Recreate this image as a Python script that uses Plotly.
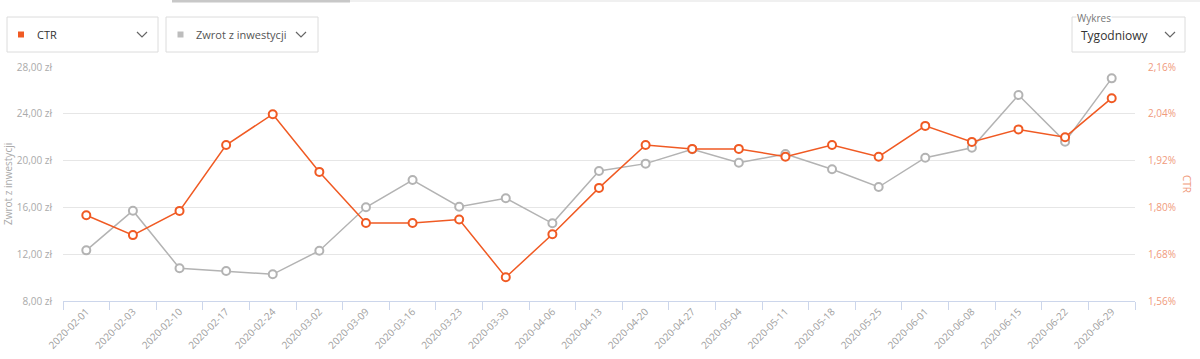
import plotly.graph_objects as go

dates = ["2020-02-01", "2020-02-03", "2020-02-10", "2020-02-17", "2020-02-24",
         "2020-03-02", "2020-03-09", "2020-03-16", "2020-03-23", "2020-03-30",
         "2020-04-06", "2020-04-13", "2020-04-20", "2020-04-27", "2020-05-04",
         "2020-05-11", "2020-05-18", "2020-05-25", "2020-06-01", "2020-06-08",
         "2020-06-15", "2020-06-22", "2020-06-29"]
roi = [12.33, 15.72, 10.80, 10.56, 10.28, 12.30, 16.01, 18.34, 16.06, 16.78,
       14.64, 19.11, 19.74, 20.97, 19.82, 20.56, 19.26, 17.74, 20.25, 21.10,
       25.60, 21.62, 27.03]
ctr = [1.780, 1.729, 1.791, 1.960, 2.039, 1.891, 1.760, 1.760, 1.769, 1.621,
       1.731, 1.850, 1.960, 1.950, 1.950, 1.930, 1.960, 1.930, 2.009, 1.968,
       2.000, 1.980, 2.080]
left_ticks = [8, 12, 16, 20, 24, 28]
left_labels = ["8,00 zł", "12,00 zł", "16,00 zł", "20,00 zł", "24,00 zł", "28,00 zł"]
right_ticks = [1.56, 1.68, 1.80, 1.92, 2.04, 2.16]
right_labels = ["1,56%", "1,68%", "1,80%", "1,92%", "2,04%", "2,16%"]

ORANGE = "#f05a23"
GRAY = "#b3b3b3"
FONT = "Open Sans"

W, H = 1200, 359
L, R, T, B = 63, 1135, 67, 301


def px(x):
    return (x - L) / (R - L)


def py(y):
    return (B - y) / (B - T)


fig = go.Figure()
fig.add_trace(go.Scatter(
    x=dates, y=roi, name="Zwrot z inwestycji", mode="lines+markers",
    line=dict(color=GRAY, width=1.5),
    marker=dict(symbol="circle", size=8, color="white", line=dict(color=GRAY, width=2)),
    yaxis="y"))
fig.add_trace(go.Scatter(
    x=dates, y=ctr, name="CTR", mode="lines+markers",
    line=dict(color=ORANGE, width=1.5),
    marker=dict(symbol="circle", size=8, color="white", line=dict(color=ORANGE, width=2)),
    yaxis="y2"))

shapes = []
annotations = []

# top tab bar
shapes.append(dict(type="rect", xref="paper", yref="paper",
                   x0=px(172), x1=px(1200), y0=py(0), y1=py(2),
                   fillcolor="#f0f0f0", line=dict(width=0), layer="above"))
shapes.append(dict(type="rect", xref="paper", yref="paper",
                   x0=px(172), x1=px(350), y0=py(0), y1=py(2.5),
                   fillcolor="#c8c8c8", line=dict(width=0), layer="above"))

# dropdown boxes
for (x0, x1) in [(7, 158), (166, 318), (1072, 1185)]:
    shapes.append(dict(type="rect", xref="paper", yref="paper",
                       x0=px(x0), x1=px(x1), y0=py(52), y1=py(17),
                       line=dict(color="#dcdcdc", width=1), fillcolor="rgba(0,0,0,0)"))

# chevrons
for cx in [142, 301, 1170]:
    path = "M {} {} L {} {} L {} {}".format(px(cx - 5), py(32), px(cx), py(37), px(cx + 5), py(32))
    shapes.append(dict(type="path", xref="paper", yref="paper", path=path,
                       line=dict(color="#666666", width=1.2)))

# colored squares
shapes.append(dict(type="rect", xref="paper", yref="paper",
                   x0=px(18), x1=px(24), y0=py(37.5), y1=py(31.5),
                   fillcolor=ORANGE, line=dict(width=0)))
shapes.append(dict(type="rect", xref="paper", yref="paper",
                   x0=px(177.5), x1=px(183.5), y0=py(37.5), y1=py(31.5),
                   fillcolor="#bdbdbd", line=dict(width=0)))

annotations.append(dict(text="CTR", xref="paper", yref="paper", x=px(35), y=py(34.5),
                        xanchor="left", yanchor="middle", showarrow=False,
                        font=dict(family=FONT, size=11, color="#333333")))
annotations.append(dict(text="Zwrot z inwestycji", xref="paper", yref="paper", x=px(194), y=py(34.5),
                        xanchor="left", yanchor="middle", showarrow=False,
                        font=dict(family=FONT, size=11, color="#555555")))
annotations.append(dict(text="Tygodniowy", xref="paper", yref="paper", x=px(1079), y=py(35),
                        xanchor="left", yanchor="middle", showarrow=False,
                        font=dict(family=FONT, size=12, color="#333333")))
annotations.append(dict(text="Wykres", xref="paper", yref="paper", x=px(1076), y=py(17.5),
                        xanchor="left", yanchor="middle", showarrow=False, bgcolor="white",
                        borderpad=0,
                        font=dict(family=FONT, size=10, color="#777777")))

# axis titles
annotations.append(dict(text="Zwrot z inwestycji", xref="paper", yref="paper", x=px(8), y=py(184),
                        xanchor="center", yanchor="middle", showarrow=False, textangle=-90,
                        font=dict(family=FONT, size=10, color="#aaaaaa")))
annotations.append(dict(text="CTR", xref="paper", yref="paper", x=px(1187), y=py(184),
                        xanchor="center", yanchor="middle", showarrow=False, textangle=90,
                        font=dict(family=FONT, size=10, color="#f09a7c")))

fig.update_layout(
    width=W, height=H,
    margin=dict(l=L, r=W - R, t=T, b=H - B, pad=0),
    paper_bgcolor="white", plot_bgcolor="white",
    showlegend=False,
    font=dict(family=FONT),
    xaxis=dict(type="category", tickson="boundaries", ticks="outside", ticklen=8,
               tickcolor="#ccd6eb", tickwidth=1, showline=True, linecolor="#ccd6eb",
               linewidth=1, showgrid=False, tickangle=-45, automargin=False,
               tickfont=dict(family=FONT, size=10, color="#a0a0a0"),
               range=[-0.5, len(dates) - 0.5]),
    yaxis=dict(range=[8, 28], tickvals=left_ticks, ticktext=left_labels,
               showgrid=True, gridcolor="#e6e6e6", gridwidth=1, zeroline=False,
               showline=False, ticks="", automargin=False, ticklabelstandoff=10,
               tickfont=dict(family=FONT, size=10, color="#aaaaaa")),
    yaxis2=dict(range=[1.56, 2.16], tickvals=right_ticks, ticktext=right_labels,
                overlaying="y", side="right", showgrid=False, zeroline=False,
                showline=False, ticks="", automargin=False, ticklabelstandoff=12,
                tickfont=dict(family=FONT, size=10, color="#f09a7c")),
    shapes=shapes,
    annotations=annotations,
)

fig.write_html("out.html")
